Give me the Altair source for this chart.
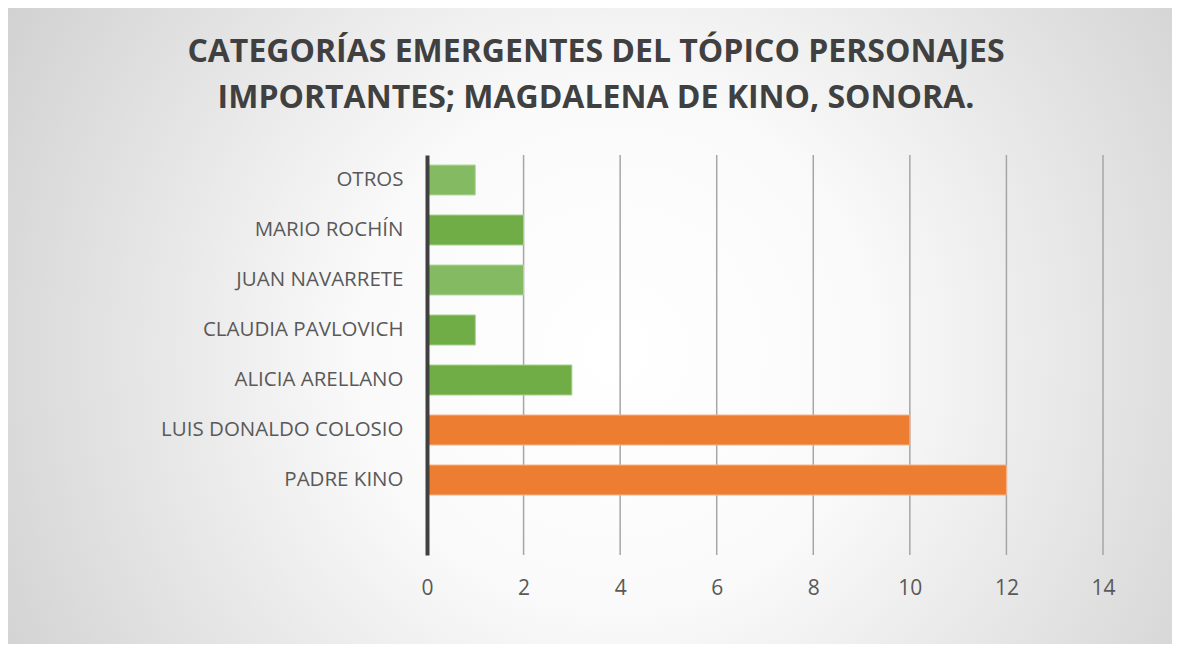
import altair as alt
import pandas as pd

TITLE_LINES = ["CATEGORÍAS EMERGENTES DEL TÓPICO PERSONAJES",
               "IMPORTANTES; MAGDALENA DE KINO, SONORA."]
CATEGORIES = ["OTROS", "MARIO ROCHÍN", "JUAN NAVARRETE", "CLAUDIA PAVLOVICH",
              "ALICIA ARELLANO", "LUIS DONALDO COLOSIO", "PADRE KINO"]
VALUES = [1, 2, 2, 1, 3, 10, 12]
FILLS = ["#84BB62", "#70AD47", "#84BB62", "#70AD47", "#70AD47", "#ED7D31", "#ED7D31"]
STROKES = ["#B5D89F", "#A9D18E", "#B5D89F", "#A9D18E", "#A9D18E", "#F6B48A", "#F6B48A"]
DOMAIN = CATEGORIES + [""]
X_TICKS = [0, 2, 4, 6, 8, 10, 12, 14]

df = pd.DataFrame({"cat": CATEGORIES, "val": VALUES, "fill": FILLS, "stroke": STROKES})
grid_df = pd.DataFrame({"val": X_TICKS[1:]})

W, H = 676, 400
FONT = "Open Sans"

gradient = {
    "gradient": "radial",
    "x1": 0.52, "y1": 0.52, "r1": 0,
    "x2": 0.52, "y2": 0.52, "r2": 0.72,
    "stops": [
        {"offset": 0, "color": "#ffffff"},
        {"offset": 0.3, "color": "#fafafa"},
        {"offset": 1, "color": "#c4c4c4"},
    ],
}

xscale = alt.Scale(domain=[0, 14], nice=False)
xaxis = alt.Axis(values=X_TICKS, title=None, grid=False,
                 ticks=False, domain=False, zindex=1, labelFlush=False,
                 labelFont=FONT, labelFontSize=21, labelColor="#595959",
                 labelPadding=22)

bg = alt.Chart(alt.Data(values=[{"a": 1}])).mark_rect(
    fill=gradient, stroke="#d4d4d4", strokeWidth=1
).encode(
    x=alt.value(-421), x2=alt.value(753), y=alt.value(-149), y2=alt.value(495)
)

title = alt.Chart(alt.Data(values=[{"a": 1}])).mark_text(
    font=FONT, fontSize=32, fontWeight="bold", color="#404040",
    align="center", baseline="alphabetic", lineHeight=46
).encode(
    x=alt.value(169), y=alt.value(-93), text=alt.value(TITLE_LINES)
)

grid = alt.Chart(grid_df).mark_rule(color="#a6a6a6", strokeWidth=1.5).encode(
    x=alt.X("val:Q", scale=xscale, axis=xaxis),
    y=alt.value(0), y2=alt.value(H),
)

bars = alt.Chart(df).mark_bar(strokeWidth=1).encode(
    x=alt.X("val:Q", scale=xscale, axis=xaxis),
    y=alt.Y("cat:N", sort=DOMAIN,
            scale=alt.Scale(domain=DOMAIN, paddingInner=0.4, paddingOuter=0.2),
            axis=alt.Axis(title=None, ticks=False, grid=False, domain=True, zindex=1,
                          domainColor="#404040", domainWidth=4,
                          labelFont=FONT, labelFontSize=20.5, labelColor="#595959",
                          labelPadding=24, labelLimit=400)),
    fill=alt.Fill("fill:N", scale=None),
    stroke=alt.Stroke("stroke:N", scale=None),
)

chart = alt.layer(bg, title, grid, bars).properties(
    width=W, height=H,
    autosize=alt.AutoSizeParams(type="none"),
    padding={"left": 419, "top": 147, "right": 69, "bottom": 89},
).configure_view(stroke=None)

chart.save("out.html", embed_options={"renderer": "svg", "actions": False})
